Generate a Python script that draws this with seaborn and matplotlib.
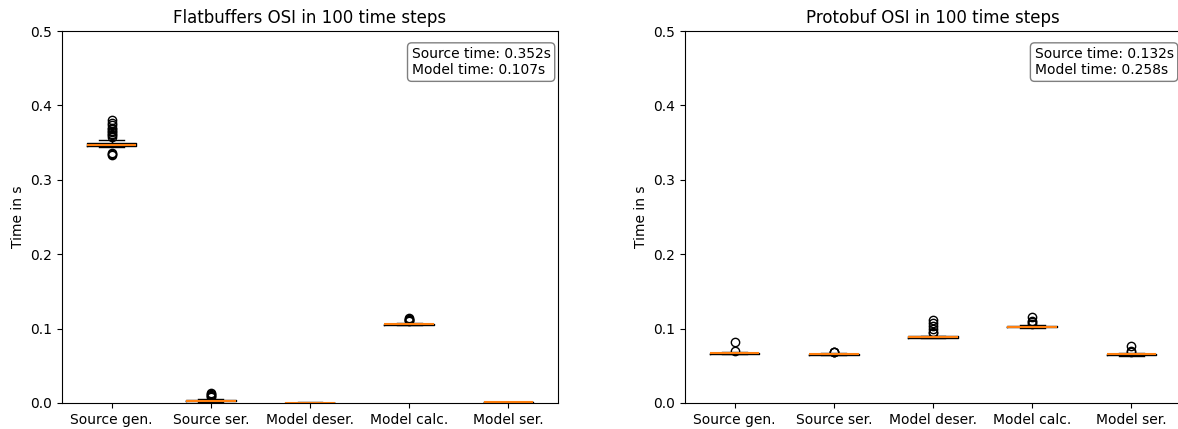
import matplotlib
matplotlib.use("Agg")
import matplotlib.pyplot as plt
import seaborn as sns
import pandas as pd

steps = ["Source gen.", "Source ser.", "Model deser.", "Model calc.", "Model ser."]

# Flatbuffers per-step timings (s)
fb_source_gen = [0.333, 0.335, 0.336,
                 0.3442, 0.3444, 0.3446, 0.3448, 0.3450, 0.3451, 0.3452, 0.3453, 0.3454,
                 0.3455, 0.3457, 0.3458, 0.3459, 0.3460, 0.3462, 0.3463, 0.3464, 0.3465,
                 0.3466, 0.3467, 0.3469, 0.3470, 0.3472, 0.3474, 0.3476, 0.3478, 0.3480,
                 0.3482, 0.3484, 0.3486, 0.3488, 0.3490, 0.3492, 0.3495, 0.3510, 0.3535,
                 0.358, 0.360, 0.362, 0.364, 0.366, 0.368, 0.370, 0.373, 0.376, 0.380]
fb_source_ser = [0.0015, 0.0018, 0.0020, 0.0022, 0.0023, 0.0024, 0.0025, 0.0026, 0.0027,
                 0.0028, 0.0029, 0.0029, 0.0030, 0.0031, 0.0032, 0.0033, 0.0035, 0.0036,
                 0.0038, 0.0055, 0.0075, 0.0090, 0.0105, 0.0120, 0.0130]
fb_model_deser = [0.0003, 0.0004, 0.0004, 0.0005, 0.0006, 0.0006, 0.0007]
fb_model_calc = [0.1045, 0.1048, 0.1050, 0.1050, 0.1051, 0.1052, 0.1052, 0.1054, 0.1055,
                 0.1056, 0.1058, 0.1059, 0.1060, 0.1061, 0.1062, 0.1063, 0.1065, 0.1066,
                 0.1068, 0.1078, 0.1100, 0.1110, 0.1120, 0.1130, 0.1140]
fb_model_ser = [0.0008, 0.0010, 0.0011, 0.0013, 0.0015, 0.0016, 0.0018]

# Protobuf per-step timings (s)
pb_source_gen = [0.0652, 0.0655, 0.0657, 0.0658, 0.0659, 0.0660, 0.0662, 0.0663, 0.0664,
                 0.0665, 0.0667, 0.0668, 0.0669, 0.0670, 0.0671, 0.0672, 0.0674, 0.0676,
                 0.0680, 0.0700, 0.0820]
pb_source_ser = [0.0640, 0.0643, 0.0645, 0.0646, 0.0647, 0.0648, 0.0650, 0.0651, 0.0652,
                 0.0654, 0.0655, 0.0656, 0.0658, 0.0659, 0.0660, 0.0662, 0.0665, 0.0670,
                 0.0686, 0.0689, 0.0692]
pb_model_deser = [0.0872, 0.0874, 0.0876, 0.0877, 0.0878, 0.0879, 0.0879, 0.0880, 0.0881,
                  0.0882, 0.0883, 0.0884, 0.0886, 0.0887, 0.0888, 0.0889, 0.0890, 0.0891,
                  0.0892, 0.0893, 0.0894, 0.0895, 0.0905,
                  0.0940, 0.0960, 0.0990, 0.1040, 0.1080, 0.1120]
pb_model_calc = [0.1005, 0.1008, 0.1010, 0.1012, 0.1013, 0.1014, 0.1015, 0.1017, 0.1018,
                 0.1020, 0.1022, 0.1023, 0.1025, 0.1026, 0.1027, 0.1028, 0.1029, 0.1030,
                 0.1032, 0.1036, 0.1042, 0.1065, 0.1085, 0.1105, 0.1155]
pb_model_ser = [0.0635, 0.0638, 0.0640, 0.0641, 0.0642, 0.0644, 0.0645, 0.0646, 0.0647,
                0.0648, 0.0649, 0.0650, 0.0652, 0.0653, 0.0654, 0.0655, 0.0656, 0.0658,
                0.0660, 0.0662, 0.0665, 0.0670, 0.0685, 0.0700, 0.0765]

fb_times = {"source": 0.352, "model": 0.107}
pb_times = {"source": 0.132, "model": 0.258}

titles = ["Flatbuffers OSI in 100 time steps", "Protobuf OSI in 100 time steps"]
y_ticks = [0.0, 0.1, 0.2, 0.3, 0.4, 0.5]


def to_frame(series):
    rows = []
    for step, values in zip(steps, series):
        rows.extend((step, v) for v in values)
    return pd.DataFrame(rows, columns=["step", "time"])


fb_df = to_frame([fb_source_gen, fb_source_ser, fb_model_deser, fb_model_calc, fb_model_ser])
pb_df = to_frame([pb_source_gen, pb_source_ser, pb_model_deser, pb_model_calc, pb_model_ser])

W, H = 1178, 429
fig = plt.figure(figsize=(W / 100, H / 100), dpi=100)
ax_w, ax_h = 496 / W, 372 / H
ax_bottom = (H - 403) / H
axes = [fig.add_axes([62 / W, ax_bottom, ax_w, ax_h]),
        fig.add_axes([685 / W, ax_bottom, ax_w, ax_h])]

for ax, df, title, times in zip(axes, [fb_df, pb_df], titles, [fb_times, pb_times]):
    sns.boxplot(data=df, x="step", y="time", order=steps, ax=ax,
                fill=False, color="black", width=0.5, linewidth=1, whis=1.5,
                medianprops=dict(color="#ff7f0e", linewidth=1.5),
                flierprops=dict(marker="o", markerfacecolor="none",
                                markeredgecolor="black", markersize=6))
    ax.set_ylim(0, 0.5)
    ax.set_xlim(-0.5, len(steps) - 0.5)
    ax.set_yticks(y_ticks)
    ax.set_title(title, fontsize=12)
    ax.set_xlabel("")
    ax.set_ylabel("Time in s")
    ax.text(0.985, 0.957,
            f"Source time: {times['source']:.3f}s\nModel time: {times['model']:.3f}s",
            transform=ax.transAxes, ha="right", va="top", multialignment="left",
            fontsize=10,
            bbox=dict(boxstyle="round", facecolor="white", alpha=0.5))

fig.savefig("out.png", dpi=100)
